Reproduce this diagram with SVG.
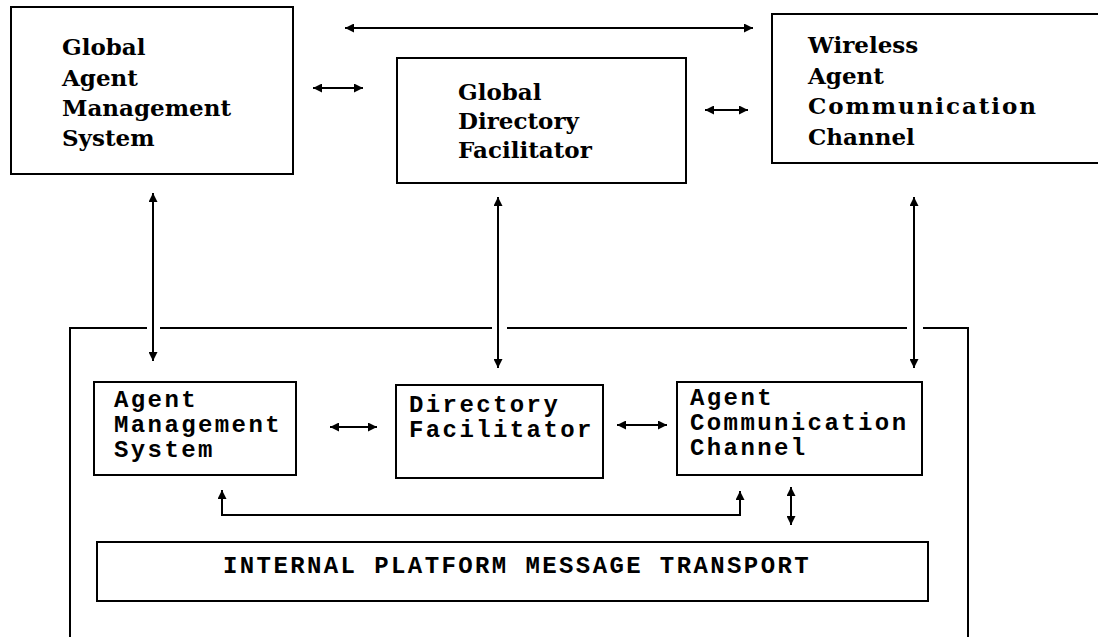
<svg xmlns="http://www.w3.org/2000/svg" width="1098" height="637" viewBox="0 0 1098 637">
<style>
.box{fill:#fff;stroke:#000;stroke-width:2}
.ser{font-family:"DejaVu Serif","Liberation Serif",serif;font-weight:bold;font-size:23px;fill:#000}
.mono{font-family:"Liberation Mono","DejaVu Sans Mono",monospace;font-weight:bold;font-size:24px;letter-spacing:2.4px;fill:#000}
.conn{fill:none;stroke:#000;stroke-width:2;marker-start:url(#ah);marker-end:url(#ah)}
.frame{fill:none;stroke:#000;stroke-width:2}
</style>
<defs>
<marker id="ah" viewBox="0 0 10 10" refX="10" refY="5" markerWidth="11" markerHeight="9" markerUnits="userSpaceOnUse" orient="auto-start-reverse">
<path d="M0,0 L10,5 L0,10 z" fill="#000"/>
</marker>
</defs>
<rect width="1098" height="637" fill="#fff"/>
<g id="platform">
<path class="frame" d="M70,637 L70,328 L147,328 M160,328 L492,328 M507,328 L907,328 M923,328 L968,328 L968,637"/>
</g>
<g id="gams">
<rect class="box" x="11" y="7" width="282" height="167"/>
<text class="ser" x="62" y="55">Global</text>
<text class="ser" x="62" y="86">Agent</text>
<text class="ser" x="62" y="116">Management</text>
<text class="ser" x="62" y="146">System</text>
</g>
<g id="gdf">
<rect class="box" x="397" y="58" width="289" height="125"/>
<text class="ser" x="458" y="100">Global</text>
<text class="ser" x="458" y="129">Directory</text>
<text class="ser" x="458" y="158">Facilitator</text>
</g>
<g id="wacc">
<rect class="box" x="772" y="14" width="330" height="149"/>
<text class="ser" x="808" y="53">Wireless</text>
<text class="ser" x="808" y="84">Agent</text>
<text class="ser" x="808" y="114" textLength="228" lengthAdjust="spacing">Communication</text>
<text class="ser" x="808" y="145">Channel</text>
</g>
<g id="ams">
<rect class="box" x="94" y="382" width="202" height="93"/>
<text class="mono" x="114" y="407">Agent</text>
<text class="mono" x="114" y="432">Management</text>
<text class="mono" x="114" y="457">System</text>
</g>
<g id="df">
<rect class="box" x="396" y="385" width="207" height="93"/>
<text class="mono" x="409" y="412">Directory</text>
<text class="mono" x="409" y="437">Facilitator</text>
</g>
<g id="acc">
<rect class="box" x="677" y="382" width="245" height="93"/>
<text class="mono" x="690" y="405">Agent</text>
<text class="mono" x="690" y="430">Communication</text>
<text class="mono" x="690" y="455">Channel</text>
</g>
<g id="ipmt">
<rect class="box" x="97" y="542" width="831" height="59"/>
<text class="mono" x="223" y="573">INTERNAL PLATFORM MESSAGE TRANSPORT</text>
</g>
<g id="connectors">
<line class="conn" x1="345" y1="28" x2="753" y2="28"/>
<line class="conn" x1="313" y1="88" x2="363" y2="88"/>
<line class="conn" x1="705" y1="110" x2="748" y2="110"/>
<line class="conn" x1="153" y1="193" x2="153" y2="361"/>
<line class="conn" x1="498" y1="197" x2="498" y2="368"/>
<line class="conn" x1="914" y1="197" x2="914" y2="368"/>
<line class="conn" x1="330" y1="427" x2="377" y2="427"/>
<line class="conn" x1="617" y1="425" x2="667" y2="425"/>
<path class="conn" d="M222,490 L222,515 L740,515 L740,491"/>
<line class="conn" x1="791" y1="487" x2="791" y2="525"/>
</g>
</svg>
